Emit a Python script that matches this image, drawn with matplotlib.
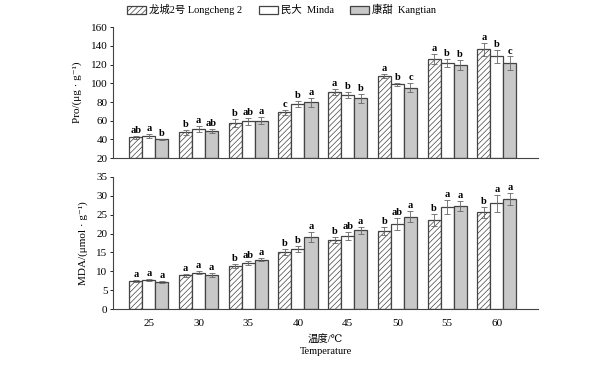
import numpy as np
import matplotlib.pyplot as plt

plt.rcParams['font.family'] = ['Liberation Serif', 'DejaVu Serif', 'Noto Sans CJK SC']
plt.rcParams['hatch.color'] = '#888888'
plt.rcParams['hatch.linewidth'] = 0.5

temps = ['25', '30', '35', '40', '45', '50', '55', '60']
names = ['龙城2号 Longcheng 2', '民大  Minda', '康甜  Kangtian']

pro_lc = [42.3, 47.6, 57.5, 68.9, 90.9, 107.9, 126.0, 136.2]
pro_md = [43.7, 51.0, 59.3, 77.7, 87.7, 99.0, 121.7, 129.1]
pro_kt = [40.0, 49.0, 60.0, 79.5, 83.8, 95.5, 119.2, 121.7]
pro_err_lc = [1.5, 3.0, 4.0, 2.5, 3.0, 2.0, 5.0, 7.0]
pro_err_md = [2.5, 3.5, 4.0, 3.0, 3.5, 1.5, 4.5, 7.0]
pro_err_kt = [1.0, 2.5, 4.0, 5.0, 5.0, 5.0, 5.5, 7.0]
pro_let_lc = ['ab', 'b', 'b', 'c', 'a', 'a', 'a', 'a']
pro_let_md = ['a', 'a', 'ab', 'b', 'b', 'b', 'b', 'b']
pro_let_kt = ['b', 'ab', 'a', 'a', 'b', 'c', 'b', 'c']

mda_lc = [7.4, 8.9, 11.4, 15.0, 18.3, 20.7, 23.6, 25.6]
mda_md = [7.7, 9.6, 12.1, 15.9, 19.3, 22.5, 27.0, 28.0]
mda_kt = [7.1, 9.0, 13.0, 19.0, 20.8, 24.5, 27.3, 29.1]
mda_err_lc = [0.2, 0.3, 0.6, 0.8, 0.7, 1.1, 1.6, 1.4]
mda_err_md = [0.3, 0.4, 0.5, 0.7, 1.0, 1.5, 1.8, 2.2]
mda_err_kt = [0.2, 0.5, 0.4, 1.3, 0.9, 1.5, 1.3, 1.6]
mda_let_lc = ['a', 'a', 'b', 'b', 'b', 'b', 'b', 'b']
mda_let_md = ['a', 'a', 'ab', 'b', 'ab', 'ab', 'a', 'a']
mda_let_kt = ['a', 'a', 'a', 'a', 'a', 'a', 'a', 'a']

x = np.arange(len(temps))
w = 0.262
styles = [dict(color='white', hatch='//////'),
          dict(color='white'),
          dict(color='#c8c8c8')]


def panel(ax, series, errs, letters, ymin, ymax, step, off):
    for i, (vals, err, lets, st) in enumerate(zip(series, errs, letters, styles)):
        pos = x + (i - 1) * w
        ax.bar(pos, np.array(vals) - ymin, w, bottom=ymin, edgecolor='#444444',
               linewidth=0.9, label=names[i], **st)
        ax.errorbar(pos, vals, yerr=err, fmt='none', ecolor='#666666',
                    elinewidth=0.6, capsize=2, capthick=0.6)
        for p, v, e, t in zip(pos, vals, err, lets):
            ax.text(p, v + e + off, t, ha='center', va='bottom', fontsize=7.5,
                    fontweight='bold')
    ax.set_ylim(ymin, ymax)
    ax.set_yticks(np.arange(ymin, ymax + 1, step))
    ax.set_xlim(-0.72, 7.83)
    for s in ['top', 'right']:
        ax.spines[s].set_visible(False)
    for s in ['left', 'bottom']:
        ax.spines[s].set_color('#444444')
        ax.spines[s].set_linewidth(0.8)
    ax.tick_params(axis='y', labelsize=8, length=2, width=0.6, pad=2)
    ax.tick_params(axis='x', length=0, labelsize=8, pad=7)


fig = plt.figure(figsize=(6.06, 3.67), dpi=100)
ax1 = fig.add_axes([0.1865, 0.569, 0.7015, 0.357])
ax2 = fig.add_axes([0.1865, 0.158, 0.7015, 0.36])

panel(ax1, [pro_lc, pro_md, pro_kt], [pro_err_lc, pro_err_md, pro_err_kt],
      [pro_let_lc, pro_let_md, pro_let_kt], 20, 160, 20, 1.0)
ax1.set_xticks([])
ax1.set_ylabel('Pro/(μg · g⁻¹)', fontsize=8, labelpad=6)

panel(ax2, [mda_lc, mda_md, mda_kt], [mda_err_lc, mda_err_md, mda_err_kt],
      [mda_let_lc, mda_let_md, mda_let_kt], 0, 35, 5, 0.3)
ax2.set_xticks(x)
ax2.set_xticklabels(temps)
ax2.set_ylabel('MDA/(μmol · g⁻¹)', fontsize=8, labelpad=6)
ax2.set_xlabel('温度/℃\nTemperature', fontsize=7.5, labelpad=5, linespacing=1.4)

h, l = ax1.get_legend_handles_labels()
fig.legend(h, l, loc='upper center', bbox_to_anchor=(0.465, 1.015), ncol=3,
           frameon=False, fontsize=7.5, handlelength=1.8, handleheight=0.8,
           columnspacing=1.6, handletextpad=0.3)

fig.savefig('out.png', dpi=100)
